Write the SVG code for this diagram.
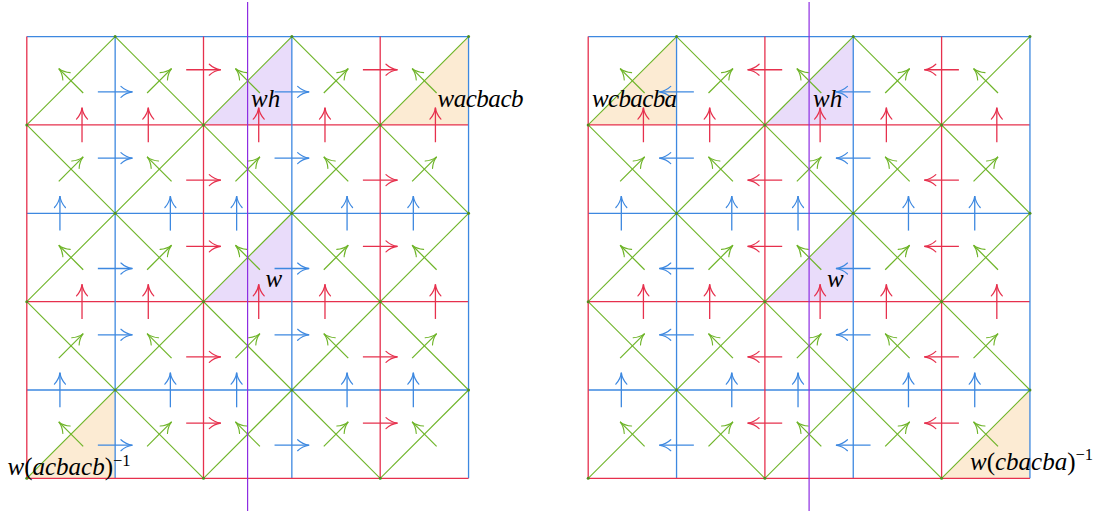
<svg xmlns="http://www.w3.org/2000/svg" xmlns:xlink="http://www.w3.org/1999/xlink" width="1100" height="513" viewBox="0 0 1100 513">
<style>
.r{stroke:#e6304d;stroke-width:1.3;fill:none}
.b{stroke:#3d88e0;stroke-width:1.3;fill:none}
.g{stroke:#6eb428;stroke-width:1.1;fill:none}
.ar{stroke:#e6304d;stroke-width:1.3;fill:none;marker-end:url(#mr)}
.ab{stroke:#3d88e0;stroke-width:1.3;fill:none;marker-end:url(#mb)}
.ag{stroke:#6eb428;stroke-width:1.2;fill:none;marker-end:url(#mg)}
.dot{fill:#4e8f1e}
.lav{fill:#e9dcfa}
.pch{fill:#fcebd3}
.mir{stroke:#8e2de2;stroke-width:1.2}
.lbl{font-family:"Liberation Serif","Times New Roman",serif;font-style:italic;font-size:25px;fill:#000}
.up{font-style:normal}
.sup{font-style:normal;font-size:16.5px}
</style>
<defs>
<marker id="mr" markerUnits="userSpaceOnUse" orient="auto" markerWidth="30" markerHeight="30" viewBox="-15 -15 30 30" refX="0" refY="0" overflow="visible"><path d="M-11.5,-5.5 C-8,-2.2 -3,-0.4 0,0 C-3,0.4 -8,2.2 -11.5,5.5" fill="none" stroke="#e6304d" stroke-width="1.2" stroke-linecap="round"/></marker>
<marker id="mb" markerUnits="userSpaceOnUse" orient="auto" markerWidth="30" markerHeight="30" viewBox="-15 -15 30 30" refX="0" refY="0" overflow="visible"><path d="M-11.5,-5.5 C-8,-2.2 -3,-0.4 0,0 C-3,0.4 -8,2.2 -11.5,5.5" fill="none" stroke="#3d88e0" stroke-width="1.2" stroke-linecap="round"/></marker>
<marker id="mg" markerUnits="userSpaceOnUse" orient="auto" markerWidth="30" markerHeight="30" viewBox="-15 -15 30 30" refX="0" refY="0" overflow="visible"><path d="M-11,-5.2 C-7.5,-2 -3,-0.4 0,0 C-3,0.4 -7.5,2 -11,5.2" fill="none" stroke="#6eb428" stroke-width="1.1" stroke-linecap="round"/></marker>
<g id="lattice">
 <g id="diagonals">
  <line class="g" x1="0" y1="88.35" x2="88.35" y2="0"/>
  <line class="g" x1="0" y1="265.05" x2="265.05" y2="0"/>
  <line class="g" x1="0" y1="441.75" x2="441.75" y2="0"/>
  <line class="g" x1="176.7" y1="441.75" x2="441.75" y2="176.7"/>
  <line class="g" x1="353.4" y1="441.75" x2="441.75" y2="353.4"/>
  <line class="g" x1="0" y1="265.05" x2="176.7" y2="441.75"/>
  <line class="g" x1="0" y1="88.35" x2="353.4" y2="441.75"/>
  <line class="g" x1="88.35" y1="0" x2="441.75" y2="353.4"/>
  <line class="g" x1="265.05" y1="0" x2="441.75" y2="176.7"/>
 </g>
 <g id="gridlines">
  <line class="b" x1="0" y1="0" x2="441.75" y2="0"/>
  <line class="r" x1="0" y1="88.35" x2="441.75" y2="88.35"/>
  <line class="b" x1="0" y1="176.7" x2="441.75" y2="176.7"/>
  <line class="r" x1="0" y1="265.05" x2="441.75" y2="265.05"/>
  <line class="b" x1="0" y1="353.4" x2="441.75" y2="353.4"/>
  <line class="b" x1="88.35" y1="0" x2="88.35" y2="441.75"/>
  <line class="b" x1="265.05" y1="0" x2="265.05" y2="441.75"/>
  <line class="b" x1="441.75" y1="0" x2="441.75" y2="441.75"/>
  <line class="r" x1="0" y1="0" x2="0" y2="441.75"/>
  <line class="r" x1="176.7" y1="0" x2="176.7" y2="441.75"/>
  <line class="r" x1="353.4" y1="0" x2="353.4" y2="441.75"/>
  <line class="r" x1="0" y1="441.75" x2="441.75" y2="441.75"/>
 </g>
 <g id="dots">
  <circle class="dot" cx="88.35" cy="0" r="1.5"/><circle class="dot" cx="265.05" cy="0" r="1.5"/><circle class="dot" cx="441.75" cy="0" r="1.5"/>
  <circle class="dot" cx="0" cy="88.35" r="1.5"/><circle class="dot" cx="176.7" cy="88.35" r="1.5"/><circle class="dot" cx="353.4" cy="88.35" r="1.5"/>
  <circle class="dot" cx="88.35" cy="176.7" r="1.5"/><circle class="dot" cx="265.05" cy="176.7" r="1.5"/><circle class="dot" cx="441.75" cy="176.7" r="1.5"/>
  <circle class="dot" cx="0" cy="265.05" r="1.5"/><circle class="dot" cx="176.7" cy="265.05" r="1.5"/><circle class="dot" cx="353.4" cy="265.05" r="1.5"/>
  <circle class="dot" cx="88.35" cy="353.4" r="1.5"/><circle class="dot" cx="265.05" cy="353.4" r="1.5"/><circle class="dot" cx="441.75" cy="353.4" r="1.5"/>
  <circle class="dot" cx="0" cy="441.75" r="1.5"/><circle class="dot" cx="176.7" cy="441.75" r="1.5"/><circle class="dot" cx="353.4" cy="441.75" r="1.5"/>
 </g>
 <g id="green-arrows">
  <line class="ag" x1="56.41" y1="56.41" x2="31.95" y2="31.95"/>
  <line class="ag" x1="120.30" y1="56.41" x2="144.76" y2="31.95"/>
  <line class="ag" x1="233.11" y1="56.41" x2="208.65" y2="31.95"/>
  <line class="ag" x1="297.00" y1="56.41" x2="321.46" y2="31.95"/>
  <line class="ag" x1="409.81" y1="56.41" x2="385.35" y2="31.95"/>
  <line class="ag" x1="31.95" y1="144.76" x2="56.41" y2="120.30"/>
  <line class="ag" x1="144.76" y1="144.76" x2="120.30" y2="120.30"/>
  <line class="ag" x1="208.65" y1="144.76" x2="233.11" y2="120.30"/>
  <line class="ag" x1="321.46" y1="144.76" x2="297.00" y2="120.30"/>
  <line class="ag" x1="385.35" y1="144.76" x2="409.81" y2="120.30"/>
  <line class="ag" x1="56.41" y1="233.11" x2="31.95" y2="208.65"/>
  <line class="ag" x1="120.30" y1="233.11" x2="144.76" y2="208.65"/>
  <line class="ag" x1="233.11" y1="233.11" x2="208.65" y2="208.65"/>
  <line class="ag" x1="297.00" y1="233.11" x2="321.46" y2="208.65"/>
  <line class="ag" x1="409.81" y1="233.11" x2="385.35" y2="208.65"/>
  <line class="ag" x1="31.95" y1="321.46" x2="56.41" y2="297.00"/>
  <line class="ag" x1="144.76" y1="321.46" x2="120.30" y2="297.00"/>
  <line class="ag" x1="208.65" y1="321.46" x2="233.11" y2="297.00"/>
  <line class="ag" x1="321.46" y1="321.46" x2="297.00" y2="297.00"/>
  <line class="ag" x1="385.35" y1="321.46" x2="409.81" y2="297.00"/>
  <line class="ag" x1="56.41" y1="409.81" x2="31.95" y2="385.35"/>
  <line class="ag" x1="120.30" y1="409.81" x2="144.76" y2="385.35"/>
  <line class="ag" x1="233.11" y1="409.81" x2="208.65" y2="385.35"/>
  <line class="ag" x1="297.00" y1="409.81" x2="321.46" y2="385.35"/>
  <line class="ag" x1="409.81" y1="409.81" x2="385.35" y2="385.35"/>
 </g>
 <g id="vertical-arrows">
  <line class="ar" x1="55.22" y1="105.65" x2="55.22" y2="71.05"/>
  <line class="ar" x1="121.48" y1="105.65" x2="121.48" y2="71.05"/>
  <line class="ar" x1="231.92" y1="105.65" x2="231.92" y2="71.05"/>
  <line class="ar" x1="298.18" y1="105.65" x2="298.18" y2="71.05"/>
  <line class="ar" x1="408.62" y1="105.65" x2="408.62" y2="71.05"/>
  <line class="ab" x1="33.13" y1="194" x2="33.13" y2="159.4"/>
  <line class="ab" x1="143.57" y1="194" x2="143.57" y2="159.4"/>
  <line class="ab" x1="209.83" y1="194" x2="209.83" y2="159.4"/>
  <line class="ab" x1="320.27" y1="194" x2="320.27" y2="159.4"/>
  <line class="ab" x1="386.53" y1="194" x2="386.53" y2="159.4"/>
  <line class="ar" x1="55.22" y1="282.35" x2="55.22" y2="247.75"/>
  <line class="ar" x1="121.48" y1="282.35" x2="121.48" y2="247.75"/>
  <line class="ar" x1="231.92" y1="282.35" x2="231.92" y2="247.75"/>
  <line class="ar" x1="298.18" y1="282.35" x2="298.18" y2="247.75"/>
  <line class="ar" x1="408.62" y1="282.35" x2="408.62" y2="247.75"/>
  <line class="ab" x1="33.13" y1="370.7" x2="33.13" y2="336.1"/>
  <line class="ab" x1="143.57" y1="370.7" x2="143.57" y2="336.1"/>
  <line class="ab" x1="209.83" y1="370.7" x2="209.83" y2="336.1"/>
  <line class="ab" x1="320.27" y1="370.7" x2="320.27" y2="336.1"/>
  <line class="ab" x1="386.53" y1="370.7" x2="386.53" y2="336.1"/>
 </g>
</g>
</defs>

<g id="left-panel">
 <g id="left-regions" transform="translate(26.8,36.6)">
  <polygon class="lav" points="176.7,88.35 265.05,0 265.05,88.35"/>
  <polygon class="lav" points="176.7,265.05 265.05,176.7 265.05,265.05"/>
  <polygon class="pch" points="353.4,88.35 441.75,0 441.75,88.35"/>
  <polygon class="pch" points="0,441.75 88.35,353.4 88.35,441.75"/>
 </g>
 <use href="#lattice" xlink:href="#lattice" transform="translate(26.8,36.6)"/>
 <g id="left-horizontal-arrows" transform="translate(26.8,36.6)">
  <line class="ab" x1="71.05" y1="55.22" x2="105.65" y2="55.22"/>
  <line class="ab" x1="71.05" y1="121.48" x2="105.65" y2="121.48"/>
  <line class="ab" x1="71.05" y1="231.92" x2="105.65" y2="231.92"/>
  <line class="ab" x1="71.05" y1="298.18" x2="105.65" y2="298.18"/>
  <line class="ab" x1="71.05" y1="408.62" x2="105.65" y2="408.62"/>
  <line class="ar" x1="159.4" y1="33.13" x2="194" y2="33.13"/>
  <line class="ar" x1="159.4" y1="143.57" x2="194" y2="143.57"/>
  <line class="ar" x1="159.4" y1="209.83" x2="194" y2="209.83"/>
  <line class="ar" x1="159.4" y1="320.27" x2="194" y2="320.27"/>
  <line class="ar" x1="159.4" y1="386.53" x2="194" y2="386.53"/>
  <line class="ab" x1="247.75" y1="55.22" x2="282.35" y2="55.22"/>
  <line class="ab" x1="247.75" y1="121.48" x2="282.35" y2="121.48"/>
  <line class="ab" x1="247.75" y1="231.92" x2="282.35" y2="231.92"/>
  <line class="ab" x1="247.75" y1="298.18" x2="282.35" y2="298.18"/>
  <line class="ab" x1="247.75" y1="408.62" x2="282.35" y2="408.62"/>
  <line class="ar" x1="336.1" y1="33.13" x2="370.7" y2="33.13"/>
  <line class="ar" x1="336.1" y1="143.57" x2="370.7" y2="143.57"/>
  <line class="ar" x1="336.1" y1="209.83" x2="370.7" y2="209.83"/>
  <line class="ar" x1="336.1" y1="320.27" x2="370.7" y2="320.27"/>
  <line class="ar" x1="336.1" y1="386.53" x2="370.7" y2="386.53"/>
 </g>
 <line id="left-mirror" class="mir" x1="247.6" y1="2" x2="247.6" y2="511"/>
 <g id="left-labels">
  <text class="lbl" x="251" y="107">wh</text>
  <text class="lbl" x="437.5" y="107" textLength="86" lengthAdjust="spacing">wacbacb</text>
  <text class="lbl" x="265.5" y="287">w</text>
  <text class="lbl" x="7.5" y="475">w<tspan class="up">(</tspan>acbacb<tspan class="up">)</tspan><tspan class="sup" dy="-9.5">−1</tspan></text>
 </g>
</g>

<g id="right-panel">
 <g id="right-regions" transform="translate(588.2,36.6)">
  <polygon class="pch" points="0,88.35 88.35,0 88.35,88.35"/>
  <polygon class="lav" points="176.7,88.35 265.05,0 265.05,88.35"/>
  <polygon class="lav" points="176.7,265.05 265.05,176.7 265.05,265.05"/>
  <polygon class="pch" points="353.4,441.75 441.75,353.4 441.75,441.75"/>
 </g>
 <use href="#lattice" xlink:href="#lattice" transform="translate(588.2,36.6)"/>
 <g id="right-horizontal-arrows" transform="translate(588.2,36.6)">
  <line class="ab" x2="71.05" y1="55.22" x1="105.65" y2="55.22"/>
  <line class="ab" x2="71.05" y1="121.48" x1="105.65" y2="121.48"/>
  <line class="ab" x2="71.05" y1="231.92" x1="105.65" y2="231.92"/>
  <line class="ab" x2="71.05" y1="298.18" x1="105.65" y2="298.18"/>
  <line class="ab" x2="71.05" y1="408.62" x1="105.65" y2="408.62"/>
  <line class="ar" x2="159.4" y1="33.13" x1="194" y2="33.13"/>
  <line class="ar" x2="159.4" y1="143.57" x1="194" y2="143.57"/>
  <line class="ar" x2="159.4" y1="209.83" x1="194" y2="209.83"/>
  <line class="ar" x2="159.4" y1="320.27" x1="194" y2="320.27"/>
  <line class="ar" x2="159.4" y1="386.53" x1="194" y2="386.53"/>
  <line class="ab" x2="247.75" y1="55.22" x1="282.35" y2="55.22"/>
  <line class="ab" x2="247.75" y1="121.48" x1="282.35" y2="121.48"/>
  <line class="ab" x2="247.75" y1="231.92" x1="282.35" y2="231.92"/>
  <line class="ab" x2="247.75" y1="298.18" x1="282.35" y2="298.18"/>
  <line class="ab" x2="247.75" y1="408.62" x1="282.35" y2="408.62"/>
  <line class="ar" x2="336.1" y1="33.13" x1="370.7" y2="33.13"/>
  <line class="ar" x2="336.1" y1="143.57" x1="370.7" y2="143.57"/>
  <line class="ar" x2="336.1" y1="209.83" x1="370.7" y2="209.83"/>
  <line class="ar" x2="336.1" y1="320.27" x1="370.7" y2="320.27"/>
  <line class="ar" x2="336.1" y1="386.53" x1="370.7" y2="386.53"/>
 </g>
 <line id="right-mirror" class="mir" x1="809.1" y1="2" x2="809.1" y2="511"/>
 <g id="right-labels">
  <text class="lbl" x="592" y="107" textLength="85" lengthAdjust="spacing">wcbacba</text>
  <text class="lbl" x="813" y="107">wh</text>
  <text class="lbl" x="827" y="287">w</text>
  <text class="lbl" x="970" y="470">w<tspan class="up">(</tspan>cbacba<tspan class="up">)</tspan><tspan class="sup" dy="-10">−1</tspan></text>
 </g>
</g>
</svg>
